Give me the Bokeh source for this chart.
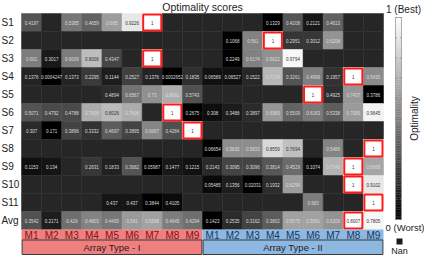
import numpy as np
from bokeh.plotting import figure
from bokeh.models import Range1d, ColumnDataSource
from bokeh.core.properties import value
from bokeh.embed import file_html
from bokeh.resources import INLINE

nan = float("nan")

row_labels = ["S1", "S2", "S3", "S4", "S5", "S6", "S7", "S8", "S9", "S10", "S11", "Avg"]
methods = ["M1", "M2", "M3", "M4", "M5", "M6", "M7", "M8", "M9"]
groups = ["Array Type - I", "Array Type - II"]

S1_I = [0.4197, nan, 0.5385, 0.4659, 0.665, 0.9226, 1, nan, nan]
S1_II = [nan, nan, nan, 0.1329, 0.4208, 0.2121, 0.4613, nan, nan]
S2_I = [nan, nan, nan, nan, nan, nan, nan, nan, nan]
S2_II = [nan, 0.1068, 0.561, 1, 0.2951, 0.3012, 0.6208, nan, nan]
S3_I = [0.601, 0.3017, 0.6009, 0.8006, 0.4347, nan, 1, nan, nan]
S3_II = [nan, 0.2249, 0.6174, 0.6622, 0.9794, nan, nan, nan, nan]
S4_I = [0.1376, 0.0004247, 0.1373, 0.2295, 0.1144, 0.2527, 0.1376, 0.0002652, 0.1835]
S4_II = [0.06589, 0.06527, 0.1522, 0.7174, 0.3261, 0.4999, 0.1957, 1, 0.5435]
S5_I = [nan, nan, nan, nan, 0.4894, 0.6567, 0.73, 0.8001, 0.5743]
S5_II = [nan, nan, nan, nan, nan, 1, 0.4925, 0.7437, 0.3786]
S6_I = [0.5071, 0.4792, 0.4788, 0.7608, 0.8026, 0.7606, nan, 1, 0.2675]
S6_II = [0.308, 0.3488, 0.3897, 0.6989, 0.5509, 0.6163, 0.5338, 0.7089, 0.9645]
S7_I = [0.307, 0.171, 0.3896, 0.3332, 0.4697, 0.3895, 0.6067, 0.4284, 1]
S7_II = [nan, nan, nan, nan, nan, nan, nan, nan, nan]
S8_I = [nan, nan, nan, nan, nan, nan, nan, nan, nan]
S8_II = [0.06654, 0.5835, 0.5833, 0.8559, 0.7694, nan, 0.5489, nan, 1]
S9_I = [0.1153, 0.134, nan, 0.2631, 0.1833, 0.3682, 0.05987, 0.1477, 0.1215]
S9_II = [0.2143, 0.3095, 0.3096, 0.3814, 0.4529, 0.1074, 0.7146, 1, 0.6668]
S10_I = [nan, nan, nan, nan, nan, nan, nan, nan, nan]
S10_II = [0.05485, 0.1356, 0.02031, 0.1932, 0.6254, nan, nan, 1, 0.9102]
S11_I = [nan, nan, nan, nan, 0.437, 0.437, 0.3844, 0.4105, nan]
S11_II = [nan, nan, nan, nan, nan, 0.683, nan, nan, 1]
AVG_I = [0.3542, 0.2171, 0.429, 0.4803, 0.4495, 0.541, 0.5598, 0.4645, 0.4294]
AVG_II = [0.1423, 0.2535, 0.3162, 0.3802, 0.5575, 0.5581, 0.5209, 0.8007, 0.7805]

rows_I = [S1_I, S2_I, S3_I, S4_I, S5_I, S6_I, S7_I, S8_I, S9_I, S10_I, S11_I, AVG_I]
rows_II = [S1_II, S2_II, S3_II, S4_II, S5_II, S6_II, S7_II, S8_II, S9_II, S10_II, S11_II, AVG_II]

# ---- layout (pixels inside the figure) ----
W, H = 424, 255
X0, X1 = 21, 383          # heatmap left/right
Y0, RH = 13, 18.0         # heatmap top, row height
NCOL = 2 * len(methods)
CW = (X1 - X0) / NCOL
NROW = len(row_labels)
MH = 10.5 / RH            # method-label row height (data units)
AH = 14.5 / RH            # array-type row height (data units)

def px(xp):
    return (xp - X0) / CW

def py(yp):
    return (yp - Y0) / RH

def gray(n):
    g = int(round(n * 255))
    return "#%02x%02x%02x" % (g, g, g)

p = figure(width=W, height=H, x_range=Range1d(px(0), px(W)),
           y_range=Range1d(py(H), py(0)), toolbar_location=None,
           output_backend="svg", min_border=0, x_axis_location=None,
           y_axis_location=None, title_location=None)
p.grid.visible = False
p.outline_line_color = None
p.background_fill_color = "white"
p.border_fill_color = "white"

FONT = value("Liberation Sans")
NAN_COLOR = "#262626"

# ---- cells ----
xs, ys, fills, labels, tcols = [], [], [], [], []
bx, by = [], []
for r in range(NROW):
    vals = np.array(rows_I[r] + rows_II[r], dtype=float)
    lo, hi = np.nanmin(vals), np.nanmax(vals)
    for c, v in enumerate(vals):
        xs.append(c + 0.5)
        ys.append(r + 0.5)
        if np.isnan(v):
            fills.append(NAN_COLOR)
            labels.append("")
            tcols.append("white")
        else:
            n = (v - lo) / (hi - lo) if hi > lo else 1.0
            fills.append(gray(n))
            labels.append("%.4g" % v)
            tcols.append("#333333" if n > 0.72 else "#dddddd")
    k = int(np.nanargmax(vals))
    bx.append(k + 0.5)
    by.append(r + 0.5)

src = ColumnDataSource(dict(x=xs, y=ys, fill=fills, label=labels, tcol=tcols))
p.rect(x="x", y="y", width=1, height=1, source=src, fill_color="fill",
       line_color="fill", line_width=0.5)
p.text(x="x", y="y", text="label", source=src, text_color="tcol",
       text_font=FONT, text_font_size="4.5px", text_align="center",
       text_baseline="middle")
p.rect(x=bx, y=by, width=1 - 2 / CW, height=1 - 2 / RH, fill_color=None,
       line_color="#ff1a1a", line_width=2)

# ---- row labels ----
p.text(x=[px(1)] * NROW, y=[r + 0.5 for r in range(NROW)], text=row_labels,
       text_font=FONT, text_font_size="10px", text_color="#222222",
       text_align="left", text_baseline="middle")

# ---- title ----
p.text(x=[NCOL / 2], y=[py(6)], text=["Optimality scores"], text_font=FONT,
       text_font_size="10.5px", text_color="#222222", text_align="center",
       text_baseline="middle")

# ---- method row and array type boxes ----
grp_fill = ["#f08080", "#8db8e2"]
grp_text = ["#7a1414", "#17365f"]
mx, mlab, mcol = [], [], []
for gi in range(2):
    for mi, m in enumerate(methods):
        mx.append(gi * len(methods) + mi + 0.5)
        mlab.append(m)
        mcol.append(grp_text[gi])
p.rect(x=[len(methods) * (gi + 0.5) for gi in range(2)],
       y=[NROW + MH / 2] * 2, width=len(methods), height=MH,
       fill_color=grp_fill, line_color=None)
p.text(x=mx, y=[NROW + MH / 2 + 0.02] * len(mx), text=mlab, text_color=mcol,
       text_font=FONT, text_font_size="10px", text_align="center",
       text_baseline="middle")
p.rect(x=[len(methods) * (gi + 0.5) for gi in range(2)],
       y=[NROW + MH + AH / 2] * 2, width=len(methods) - 0.06, height=AH,
       fill_color=grp_fill, line_color="#3a3a3a", line_width=1)
p.text(x=[len(methods) * (gi + 0.5) for gi in range(2)],
       y=[NROW + MH + AH / 2] * 2, text=groups, text_color="#2a1a1a",
       text_font=FONT, text_font_size="9.5px", text_align="center",
       text_baseline="middle")

# ---- colour bar ----
CB_L, CB_R, CB_T, CB_B = 395, 401, 17, 219
steps = 120
edges = np.linspace(CB_T, CB_B, steps + 1)
gvals = np.linspace(1, 0, steps)
cb_cols = [gray(g) for g in gvals]
p.quad(left=[px(CB_L)] * steps, right=[px(CB_R)] * steps,
       top=[py(e) for e in edges[:-1]], bottom=[py(e) for e in edges[1:]],
       fill_color=cb_cols, line_color=cb_cols, line_width=0.3)
p.quad(left=[px(CB_L)], right=[px(CB_R)], top=[py(CB_T)], bottom=[py(CB_B)],
       fill_color=None, line_color="#9a9a9a", line_width=0.8)
tick_y = np.linspace(CB_T, CB_B, 11)
p.segment(x0=[px(CB_R)] * 11, x1=[px(CB_R - 1.5)] * 11,
          y0=[py(t) for t in tick_y], y1=[py(t) for t in tick_y],
          line_color="#777777", line_width=0.6)
p.segment(x0=[px(CB_L)] * 11, x1=[px(CB_L + 1.5)] * 11,
          y0=[py(t) for t in tick_y], y1=[py(t) for t in tick_y],
          line_color="#777777", line_width=0.6)
p.text(x=[px(403)], y=[py(9)], text=["1 (Best)"], text_font=FONT,
       text_font_size="10px", text_color="#222222", text_align="center",
       text_baseline="middle")
p.text(x=[px(424)], y=[py(227)], text=["0 (Worst)"], text_font=FONT,
       text_font_size="9.5px", text_color="#222222", text_align="right",
       text_baseline="middle")
p.text(x=[px(414)], y=[py(118)], text=["Optimality"], text_font=FONT,
       text_font_size="10px", text_color="#222222", text_align="center",
       text_baseline="middle", angle=np.pi / 2)

# ---- NaN legend ----
p.rect(x=[px(399)], y=[py(241)], width=6 / CW, height=6 / RH,
       fill_color="#1a1a1a", line_color=None)
p.text(x=[px(399)], y=[py(250)], text=["Nan"], text_font=FONT,
       text_font_size="9px", text_color="#222222", text_align="center",
       text_baseline="middle")

open("out.html", "w").write(file_html(p, INLINE))
